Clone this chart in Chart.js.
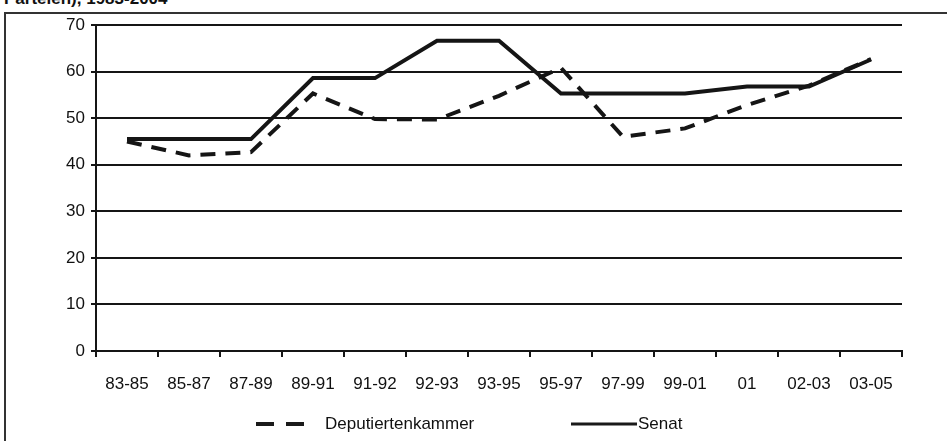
<!DOCTYPE html>
<html lang="de">
<head>
  <meta charset="UTF-8" />
  <title>Deputiertenkammer / Senat</title>
  <script src="https://cdn.jsdelivr.net/npm/chart.js"></script>
  <style>
    body {
      margin: 0;
      width: 947px;
      height: 441px;
      overflow: hidden;
      position: relative;
      background: #fff;
      font-family: "Liberation Sans", Arial, sans-serif;
      color: #111;
    }
    .title {
      position: absolute;
      left: 4px;
      top: -11px;
      font-size: 17px;
      font-weight: bold;
      white-space: nowrap;
    }
    .frame {
      position: absolute;
      left: 4px;
      top: 12px;
      width: 980px;
      height: 460px;
      border-left: 2px solid #333;
      border-top: 2px solid #333;
    }
    .chart-wrapper {
      position: absolute;
      left: 0;
      top: 0;
      width: 947px;
      height: 441px;
    }
    .legend {
      position: absolute;
      top: 413px;
      left: 0;
      font-size: 17px;
      line-height: 22px;
    }
    .legend span, .legend svg {
      position: absolute;
      top: 0;
    }
  </style>
</head>
<body>
  <div class="title">Parteien), 1983-2004</div>
  <div class="frame"></div>

  <div class="chart-wrapper">
    <canvas id="chart" width="947" height="441"></canvas>
  </div>

  <div class="legend">
    <svg style="left:256px" width="58" height="22"><line x1="0" y1="11" x2="58" y2="11" stroke="#1a1a1a" stroke-width="4" stroke-dasharray="18,12"/></svg>
    <span style="left:325px">Deputiertenkammer</span>
    <svg style="left:571px" width="66" height="22"><line x1="0" y1="11" x2="66" y2="11" stroke="#1a1a1a" stroke-width="3"/></svg>
    <span style="left:638px">Senat</span>
  </div>

  <script>
    const periods = ["83-85", "85-87", "87-89", "89-91", "91-92", "92-93", "93-95",
                     "95-97", "97-99", "99-01", "01", "02-03", "03-05"];
    const deputiertenkammer = [45, 42, 42.7, 55.3, 49.8, 49.7, 54.8, 60.8, 46, 47.8, 52.8, 57, 62.7];
    const senat = [45.5, 45.5, 45.5, 58.6, 58.6, 66.6, 66.6, 55.3, 55.3, 55.3, 56.8, 56.8, 62.6];
    const yTicks = [0, 10, 20, 30, 40, 50, 60, 70];

    const ink = "#151515";
    const font = { family: "'Liberation Sans', Arial, sans-serif", size: 17 };

    new Chart(document.getElementById("chart"), {
      type: "line",
      data: {
        labels: periods,
        datasets: [
          {
            label: "Deputiertenkammer",
            data: deputiertenkammer,
            borderColor: ink,
            borderWidth: 4,
            borderDash: [15, 10],
            pointRadius: 0,
            tension: 0,
            fill: false
          },
          {
            label: "Senat",
            data: senat,
            borderColor: ink,
            borderWidth: 4,
            pointRadius: 0,
            tension: 0,
            fill: false
          }
        ]
      },
      options: {
        responsive: false,
        animation: false,
        layout: {
          padding: { left: 10, right: 45, top: 25, bottom: 0 }
        },
        plugins: {
          legend: { display: false },
          tooltip: { enabled: false }
        },
        scales: {
          x: {
            offset: true,
            afterFit: (scale) => { scale.height = 90; },
            grid: {
              offset: true,
              drawOnChartArea: false,
              color: ink,
              lineWidth: 2,
              tickLength: 6
            },
            border: { color: ink, width: 2 },
            ticks: {
              color: "#111",
              font: font,
              padding: 17,
              maxRotation: 0,
              autoSkip: false
            }
          },
          y: {
            min: 0,
            max: 70,
            afterFit: (scale) => { scale.width = 86; },
            afterBuildTicks: (scale) => {
              scale.ticks = yTicks.map(v => ({ value: v }));
            },
            grid: {
              color: ink,
              lineWidth: 2,
              tickLength: 5
            },
            border: { color: ink, width: 2 },
            ticks: {
              color: "#111",
              font: font,
              padding: 6
            }
          }
        }
      }
    });
  </script>
</body>
</html>
